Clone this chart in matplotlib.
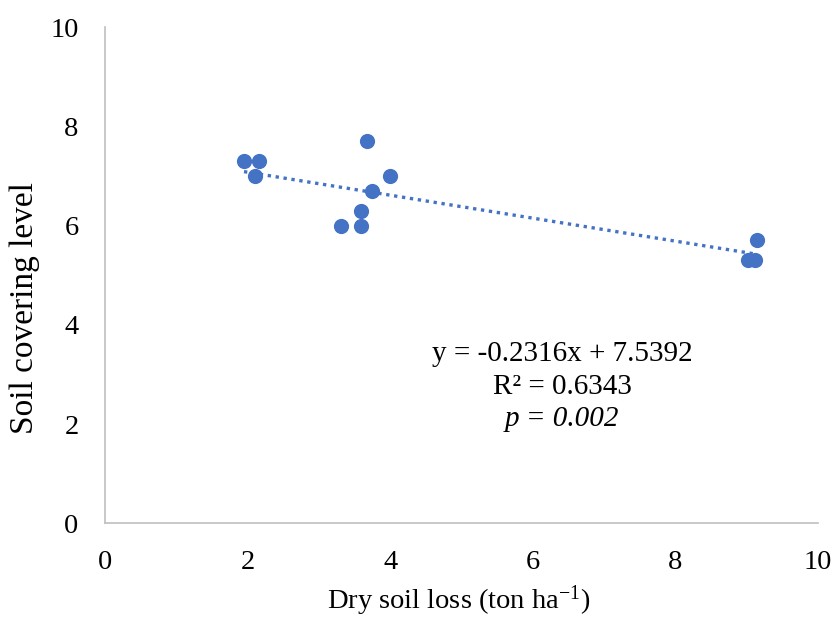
import numpy as np
import matplotlib.pyplot as plt

plt.rcParams["font.family"] = ["Liberation Serif", "DejaVu Serif"]
plt.rcParams["mathtext.fontset"] = "custom"
plt.rcParams["mathtext.rm"] = "Liberation Serif"
plt.rcParams["mathtext.it"] = "Liberation Serif:italic"

# Dry soil loss (ton/ha) vs soil covering level
soil_loss = [1.95, 2.16, 2.10, 3.67, 3.74, 4.00, 3.59, 3.31, 3.59, 9.15, 9.02, 9.12]
cover_level = [7.3, 7.3, 7.0, 7.7, 6.7, 7.0, 6.3, 6.0, 6.0, 5.7, 5.3, 5.3]

# linear trend reported on the chart
slope = -0.2316
intercept = 7.5392
r_squared = 0.6343
p_value = 0.002

blue = "#4472C4"
grey = "#BFBFBF"
fs = 20.5

fig = plt.figure(figsize=(8.33, 6.17), dpi=100)
ax = fig.add_axes([0.126, 0.152, 0.856, 0.804])

ax.scatter(soil_loss, cover_level, s=120, color=blue, zorder=3, linewidths=0)

xs = np.array([min(soil_loss), max(soil_loss)])
ax.plot(xs, slope * xs + intercept, color=blue, lw=2.4,
        linestyle=(0, (1, 1.4)), zorder=2)

ax.set_xlim(0, 10)
ax.set_ylim(0, 10)
ax.set_xticks(range(0, 11, 2))
ax.set_yticks(range(0, 11, 2))
ax.tick_params(length=0, labelsize=fs)
ax.tick_params(axis="x", pad=19)
ax.tick_params(axis="y", pad=19)

for side in ("top", "right"):
    ax.spines[side].set_visible(False)
for side in ("left", "bottom"):
    ax.spines[side].set_color(grey)
    ax.spines[side].set_linewidth(1.2)

ax.set_xlabel("Dry soil loss (ton ha$^{\\mathregular{-1}}$)", fontsize=fs, va="center")
ax.xaxis.set_label_coords(0.496, -0.156)
ax.set_ylabel("Soil covering level", fontsize=24, va="center")
ax.yaxis.set_label_coords(-0.112, 0.434)

tx = 6.41
ax.text(tx, 3.42, f"y = {slope}x + {intercept}", ha="center", va="center", fontsize=21)
ax.text(tx, 2.75, f"R² = {r_squared}", ha="center", va="center", fontsize=21)
ax.text(tx, 2.10, f"p = {p_value:.3f}", ha="center", va="center",
        fontsize=21, style="italic")

fig.savefig("out.png", dpi=100)
